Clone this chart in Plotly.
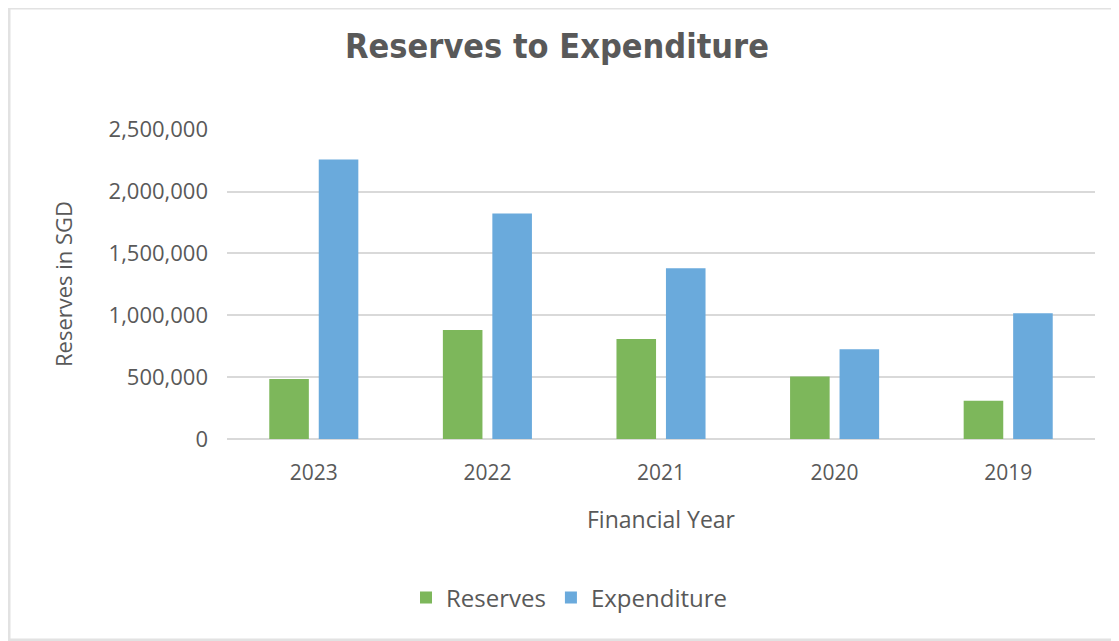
import plotly.graph_objects as go

# data
years = ["2023", "2022", "2021", "2020", "2019"]
reserves = [484000, 881000, 809000, 505000, 309000]
expenditure = [2258000, 1823000, 1379000, 726000, 1016000]
y_ticks = [0, 500000, 1000000, 1500000, 2000000, 2500000]

GREEN = "#7DB75B"
BLUE = "#6AAADC"
TEXT = "#595959"
GRID = "#D9D9D9"
FONT = "Open Sans, Lato, sans-serif"

# the page body has an 8px margin, so the figure sits at (8, 8) on screen
W, H = 1111, 633
L, R, T, B = 219, 24, 121, 202


def px_to_paper_x(px):
    return (px - L) / (W - L - R)


def px_to_paper_y(py):
    return (H - B - py) / (H - T - B)


fig = go.Figure()
fig.add_trace(go.Bar(x=years, y=reserves, name="Reserves",
                     marker=dict(color=GREEN, line=dict(width=0))))
fig.add_trace(go.Bar(x=years, y=expenditure, name="Expenditure",
                     marker=dict(color=BLUE, line=dict(width=0))))

fig.update_layout(
    width=W, height=H,
    margin=dict(l=L, r=R, t=T, b=B, autoexpand=False),
    paper_bgcolor="white", plot_bgcolor="white",
    barmode="group", bargap=0.43, bargroupgap=0.2,
    font=dict(family=FONT, color=TEXT, size=21),
    title=dict(text="<b>Reserves to Expenditure</b>",
               xref="container", x=549 / W, xanchor="center",
               yref="container", y=1 - 38 / H, yanchor="middle",
               font=dict(family="Liberation Sans Narrow, DejaVu Sans Condensed, sans-serif",
                         size=34, color=TEXT)),
    legend=dict(orientation="h", x=px_to_paper_x(561), xanchor="center",
                y=px_to_paper_y(590), yanchor="middle",
                font=dict(size=24, color=TEXT), itemwidth=30,
                traceorder="normal"),
    showlegend=True,
)

fig.update_xaxes(showgrid=False, showline=False, ticks="",
                 ticklabelstandoff=19,
                 tickfont=dict(size=21, color=TEXT),
                 title=dict(text="Financial Year", standoff=26,
                            font=dict(size=23, color=TEXT)))
fig.update_yaxes(range=[0, 2505000], tickvals=y_ticks, tickformat=",d",
                 showgrid=True, gridcolor=GRID, gridwidth=2,
                 zeroline=True, zerolinecolor=GRID, zerolinewidth=2,
                 showline=False, ticks="", ticklen=0,
                 ticklabelstandoff=18,
                 tickfont=dict(size=22, color=TEXT),
                 title=dict(text="Reserves in SGD", standoff=29,
                            font=dict(size=22, color=TEXT)))

# light frame around the chart (left, top and bottom edges)
fig.add_shape(type="rect", xref="paper", yref="paper",
              x0=px_to_paper_x(1), x1=px_to_paper_x(1300),
              y0=px_to_paper_y(632), y1=px_to_paper_y(0),
              line=dict(color="#E2E2E2", width=3), fillcolor="rgba(0,0,0,0)",
              layer="below")

fig.write_html("out.html")
